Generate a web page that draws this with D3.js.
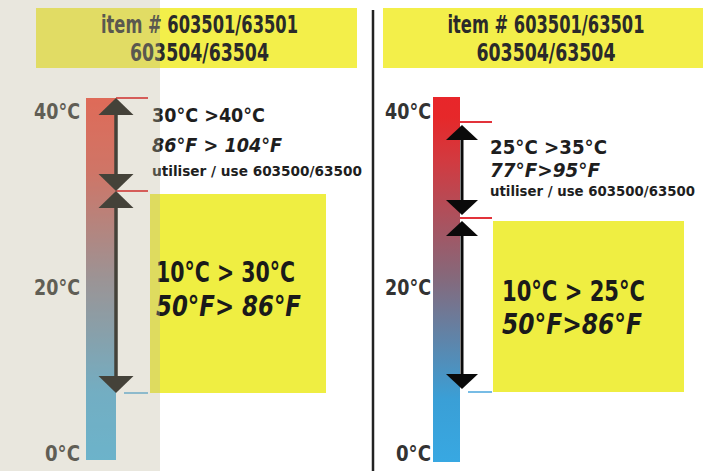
<!DOCTYPE html>
<html>
<head>
<meta charset="utf-8">
<style>
body {
    margin: 0;
    background: #fff;
}
svg text {
    font-family: "Liberation Sans Narrow", "DejaVu Sans Condensed", "Arial Narrow", sans-serif;
    font-weight: bold;
}
</style>
</head>
<body>
<svg id="chart" width="709" height="471"></svg>
<script src="https://d3js.org/d3.v7.min.js"></script>
<script>
// header + axis labels
var headerLines = ["item # 603501/63501", "603504/63504"];
var tickValues = [0, 20, 40];

// temperature bands, degrees C [low, high]
var leftBands = [[30, 40], [10, 30]];
var rightBands = [[25, 35], [10, 25]];

var leftUpper = ["30°C >40°C", "86°F > 104°F", "utiliser / use 603500/63500"];
var leftLower = ["10°C > 30°C", "50°F> 86°F"];
var rightUpper = ["25°C >35°C", "77°F>95°F", "utiliser / use 603500/63500"];
var rightLower = ["10°C > 25°C", "50°F>86°F"];

var svg = d3.select("#chart");
var defs = svg.append("defs");

// the picture is a drawn label, so the bar scale is not even: pin it at the band edges
var panels = [
    {
        id: "L",
        y: d3.scaleLinear().domain([0, 10, 30, 40]).range([460, 393, 191, 98]),
        bar: {x: 86, w: 30},
        shaft: 116, head: {w: 35, h: 17}, inset: 0, stroke: 3.5,
        labelRight: 80,
        header: {x: 36, w: 321},
        bands: leftBands,
        upper: leftUpper, lower: leftLower,
        upperText: {x: 152, y: [122, 152, 176], w: [113, 130, 210]},
        box: {x0: 150, x1: 326, lo: 10, hi: 30},
        lowerText: {x: 156, y: [282, 316], w: [139, 145]},
        grad: [[0, "#45b2e2"], [10, "#4faad6"], [21, "#8a8494"], [32, "#d8564e"], [40, "#f04638"]]
    },
    {
        id: "R",
        y: d3.scaleLinear().domain([0, 10, 25, 35, 40]).range([462, 392, 218, 122, 97]),
        bar: {x: 433, w: 27},
        shaft: 462, head: {w: 32, h: 15}, inset: 3, stroke: 3,
        labelRight: 431,
        header: {x: 383, w: 320},
        bands: rightBands,
        upper: rightUpper, lower: rightLower,
        upperText: {x: 490, y: [154, 177, 196], w: [117, 110, 205]},
        box: {x0: 493, x1: 684, lo: 10, hi: 25},
        lowerText: {x: 502, y: [301, 334], w: [143, 140]},
        grad: [[0, "#38a8e2"], [9, "#3a9fd6"], [20, "#86687a"], [31, "#d23a40"], [36, "#e6282a"], [40, "#e8262a"]]
    }
];

var yTick = d3.scaleLinear().domain([0, 20, 40]).range([453, 287, 111]);

function arrowHead(x, tip, dir, h) {
    // dir -1 = pointing up, +1 = pointing down
    var b = tip - dir * h.h;
    return "M" + x + "," + tip + "L" + (x - h.w / 2) + "," + b + "L" + (x + h.w / 2) + "," + b + "Z";
}

panels.forEach(function(p) {
    var g = svg.append("g").attr("class", "panel-" + p.id);
    var y = p.y;

    // header box
    g.append("rect")
        .attr("x", p.header.x).attr("y", 8)
        .attr("width", p.header.w).attr("height", 60)
        .attr("fill", "#f3ef4a");
    g.selectAll(".head").data(headerLines).enter().append("text")
        .attr("class", "head")
        .attr("x", p.header.x + p.header.w / 2 + 3)
        .attr("y", function(d, i) { return 33 + i * 28; })
        .attr("text-anchor", "middle")
        .attr("font-size", 24)
        .attr("textLength", function(d, i) { return i ? 139 : 197; })
        .attr("lengthAdjust", "spacingAndGlyphs")
        .attr("fill", "#2a2a2a")
        .text(function(d) { return d; });

    // thermometer gradient
    var grad = defs.append("linearGradient")
        .attr("id", "grad" + p.id)
        .attr("gradientUnits", "userSpaceOnUse")
        .attr("x1", 0).attr("x2", 0)
        .attr("y1", y(0)).attr("y2", y(40));
    grad.selectAll("stop").data(p.grad).enter().append("stop")
        .attr("offset", function(d) { return (y(0) - y(d[0])) / (y(0) - y(40)); })
        .attr("stop-color", function(d) { return d[1]; });

    g.append("rect")
        .attr("x", p.bar.x).attr("y", y(40))
        .attr("width", p.bar.w).attr("height", y(0) - y(40))
        .attr("fill", "url(#grad" + p.id + ")");

    // tick labels
    g.selectAll(".tick").data(tickValues).enter().append("text")
        .attr("class", "tick")
        .attr("x", p.labelRight)
        .attr("y", function(d) { return yTick(d); })
        .attr("dy", "0.36em")
        .attr("text-anchor", "end")
        .attr("font-size", 21)
        .attr("textLength", function(d) { return d ? 46 : 35; })
        .attr("lengthAdjust", "spacingAndGlyphs")
        .attr("fill", "#333")
        .text(function(d) { return d + "°C"; });

    // yellow box for main range
    g.append("rect")
        .attr("x", p.box.x0).attr("y", y(p.box.hi) + 3)
        .attr("width", p.box.x1 - p.box.x0)
        .attr("height", y(p.box.lo) - y(p.box.hi) - 3)
        .attr("fill", "#efee42");

    // band edge markers
    var edges = d3.merge(p.bands).filter(function(v, i, a) { return a.indexOf(v) === i; });
    var barRight = p.bar.x + p.bar.w;
    g.selectAll(".edge").data(edges).enter().append("line")
        .attr("class", "edge")
        .attr("x1", function(d) { return d === 10 ? barRight + 8 : barRight; })
        .attr("x2", barRight + 32)
        .attr("y1", function(d) { return y(d); })
        .attr("y2", function(d) { return y(d); })
        .attr("stroke", function(d) { return d === 10 ? "#4aa6dc" : "#e2323a"; })
        .attr("stroke-width", function(d) { return d === 10 ? 1.5 : 2; });

    // double arrows
    p.bands.forEach(function(b) {
        var top = y(b[1]) + p.inset, bot = y(b[0]) - p.inset;
        g.append("line")
            .attr("x1", p.shaft).attr("x2", p.shaft)
            .attr("y1", top + p.head.h - 2).attr("y2", bot - p.head.h + 2)
            .attr("stroke", "#0a0a0a").attr("stroke-width", p.stroke);
        g.append("path").attr("d", arrowHead(p.shaft, top, -1, p.head)).attr("fill", "#0a0a0a");
        g.append("path").attr("d", arrowHead(p.shaft, bot, 1, p.head)).attr("fill", "#0a0a0a");
    });

    // upper band text
    g.selectAll(".up").data(p.upper).enter().append("text")
        .attr("class", "up")
        .attr("x", p.upperText.x)
        .attr("y", function(d, i) { return p.upperText.y[i]; })
        .attr("font-size", function(d, i) { return i === 2 ? 14 : 20; })
        .attr("font-style", function(d, i) { return i === 1 ? "italic" : "normal"; })
        .attr("textLength", function(d, i) { return p.upperText.w[i]; })
        .attr("lengthAdjust", "spacingAndGlyphs")
        .attr("fill", "#1e1e1e")
        .text(function(d) { return d; });

    // main band text
    g.selectAll(".low").data(p.lower).enter().append("text")
        .attr("class", "low")
        .attr("x", p.lowerText.x)
        .attr("y", function(d, i) { return p.lowerText.y[i]; })
        .attr("font-size", 28)
        .attr("font-style", function(d, i) { return i === 1 ? "italic" : "normal"; })
        .attr("textLength", function(d, i) { return p.lowerText.w[i]; })
        .attr("lengthAdjust", "spacingAndGlyphs")
        .attr("fill", "#1a1a1a")
        .text(function(d) { return d; });
});

// divider between the two labels
svg.append("line")
    .attr("x1", 373).attr("x2", 373)
    .attr("y1", 10).attr("y2", 471)
    .attr("stroke", "#222").attr("stroke-width", 2.5);

// washed-out strip on the left of the photo
svg.append("rect")
    .attr("x", 0).attr("y", 0)
    .attr("width", 160).attr("height", 471)
    .attr("fill", "rgb(188,181,155)")
    .attr("opacity", 0.33);
</script>
</body>
</html>
